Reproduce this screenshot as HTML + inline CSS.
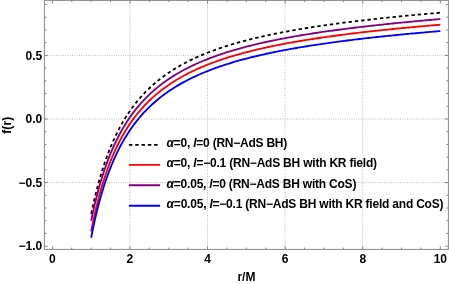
<!DOCTYPE html><html><head><meta charset="utf-8"><style>html,body{margin:0;padding:0;background:#fff}svg{display:block;will-change:transform}text{font-family:"Liberation Sans",sans-serif;font-weight:bold;font-size:12px;fill:#000}</style></head><body>
<svg width="449" height="284" viewBox="0 0 449 284">
<rect width="449" height="284" fill="#fff"/>
<line x1="129.95" x2="129.95" y1="0.4" y2="249.4" stroke="#b4b4b4" stroke-width="1" stroke-dasharray="0.9 1.41"/>
<line x1="207.55" x2="207.55" y1="0.4" y2="249.4" stroke="#b4b4b4" stroke-width="1" stroke-dasharray="0.9 1.41"/>
<line x1="285.15" x2="285.15" y1="0.4" y2="249.4" stroke="#b4b4b4" stroke-width="1" stroke-dasharray="0.9 1.41"/>
<line x1="362.75" x2="362.75" y1="0.4" y2="249.4" stroke="#b4b4b4" stroke-width="1" stroke-dasharray="0.9 1.41"/>
<line x1="44.4" x2="448.4" y1="55.40" y2="55.40" stroke="#b4b4b4" stroke-width="1" stroke-dasharray="0.9 1.41"/>
<line x1="44.4" x2="448.4" y1="119.00" y2="119.00" stroke="#b4b4b4" stroke-width="1" stroke-dasharray="0.9 1.41"/>
<line x1="44.4" x2="448.4" y1="182.60" y2="182.60" stroke="#b4b4b4" stroke-width="1" stroke-dasharray="0.9 1.41"/>
<g fill="none" stroke-width="1.85" stroke-linejoin="round">
<path d="M91.15,214.36 L92.90,206.04 L94.66,198.30 L96.41,191.10 L98.17,184.37 L99.92,178.07 L101.68,172.16 L103.43,166.61 L105.19,161.38 L106.94,156.46 L108.70,151.81 L110.45,147.41 L112.21,143.24 L113.96,139.29 L115.72,135.54 L117.47,131.97 L119.23,128.57 L120.98,125.33 L122.74,122.23 L124.49,119.28 L126.25,116.46 L128.00,113.75 L129.76,111.16 L131.51,108.68 L133.26,106.29 L135.02,104.00 L136.77,101.80 L138.53,99.68 L140.28,97.64 L142.04,95.68 L143.79,93.78 L145.55,91.96 L147.30,90.19 L149.06,88.49 L150.81,86.84 L152.57,85.24 L154.32,83.70 L156.08,82.21 L157.83,80.76 L159.59,79.36 L161.34,78.00 L163.10,76.68 L164.85,75.40 L166.61,74.16 L168.36,72.95 L170.11,71.78 L171.87,70.63 L173.62,69.52 L175.38,68.44 L177.13,67.39 L178.89,66.37 L180.64,65.37 L182.40,64.39 L184.15,63.45 L185.91,62.52 L187.66,61.62 L189.42,60.74 L191.17,59.88 L192.93,59.04 L194.68,58.22 L196.44,57.42 L198.19,56.63 L199.95,55.87 L201.70,55.12 L203.46,54.38 L205.21,53.67 L206.97,52.97 L208.72,52.28 L210.47,51.61 L212.23,50.95 L213.98,50.30 L215.74,49.67 L217.49,49.05 L219.25,48.44 L221.00,47.84 L222.76,47.26 L224.51,46.68 L226.27,46.12 L228.02,45.57 L229.78,45.03 L231.53,44.49 L233.29,43.97 L235.04,43.46 L236.80,42.95 L238.55,42.45 L240.31,41.97 L242.06,41.49 L243.82,41.02 L245.57,40.55 L247.32,40.10 L249.08,39.65 L250.83,39.21 L252.59,38.77 L254.34,38.35 L256.10,37.92 L257.85,37.51 L259.61,37.10 L261.36,36.70 L263.12,36.30 L264.87,35.91 L266.63,35.53 L268.38,35.15 L270.14,34.78 L271.89,34.41 L273.65,34.05 L275.40,33.69 L277.16,33.34 L278.91,32.99 L280.67,32.65 L282.42,32.31 L284.18,31.98 L285.93,31.65 L287.68,31.32 L289.44,31.00 L291.19,30.68 L292.95,30.37 L294.70,30.06 L296.46,29.76 L298.21,29.45 L299.97,29.16 L301.72,28.86 L303.48,28.57 L305.23,28.28 L306.99,28.00 L308.74,27.72 L310.50,27.44 L312.25,27.17 L314.01,26.90 L315.76,26.63 L317.52,26.37 L319.27,26.10 L321.03,25.84 L322.78,25.59 L324.53,25.33 L326.29,25.08 L328.04,24.83 L329.80,24.59 L331.55,24.35 L333.31,24.10 L335.06,23.87 L336.82,23.63 L338.57,23.40 L340.33,23.17 L342.08,22.94 L343.84,22.71 L345.59,22.48 L347.35,22.26 L349.10,22.04 L350.86,21.82 L352.61,21.61 L354.37,21.39 L356.12,21.18 L357.88,20.97 L359.63,20.76 L361.39,20.55 L363.14,20.35 L364.89,20.14 L366.65,19.94 L368.40,19.74 L370.16,19.54 L371.91,19.35 L373.67,19.15 L375.42,18.96 L377.18,18.77 L378.93,18.57 L380.69,18.39 L382.44,18.20 L384.20,18.01 L385.95,17.83 L387.71,17.64 L389.46,17.46 L391.22,17.28 L392.97,17.10 L394.73,16.92 L396.48,16.75 L398.24,16.57 L399.99,16.40 L401.74,16.22 L403.50,16.05 L405.25,15.88 L407.01,15.71 L408.76,15.54 L410.52,15.38 L412.27,15.21 L414.03,15.04 L415.78,14.88 L417.54,14.72 L419.29,14.56 L421.05,14.39 L422.80,14.23 L424.56,14.08 L426.31,13.92 L428.07,13.76 L429.82,13.60 L431.58,13.45 L433.33,13.29 L435.09,13.14 L436.84,12.99 L438.60,12.84 L440.35,12.69" stroke="#000" stroke-width="1.8" stroke-dasharray="3.4 2.92" stroke-dashoffset="-0.5"/>
<path d="M91.15,231.44 L92.90,222.66 L94.66,214.51 L96.41,206.94 L98.17,199.89 L99.92,193.31 L101.68,187.14 L103.43,181.36 L105.19,175.93 L106.94,170.82 L108.70,166.00 L110.45,161.44 L112.21,157.13 L113.96,153.05 L115.72,149.18 L117.47,145.50 L119.23,142.00 L120.98,138.67 L122.74,135.49 L124.49,132.45 L126.25,129.56 L128.00,126.78 L129.76,124.13 L131.51,121.58 L133.26,119.14 L135.02,116.80 L136.77,114.55 L138.53,112.38 L140.28,110.30 L142.04,108.30 L143.79,106.36 L145.55,104.50 L147.30,102.70 L149.06,100.96 L150.81,99.28 L152.57,97.66 L154.32,96.09 L156.08,94.57 L157.83,93.10 L159.59,91.68 L161.34,90.29 L163.10,88.95 L164.85,87.65 L166.61,86.39 L168.36,85.16 L170.11,83.97 L171.87,82.82 L173.62,81.69 L175.38,80.59 L177.13,79.53 L178.89,78.49 L180.64,77.48 L182.40,76.49 L184.15,75.53 L185.91,74.60 L187.66,73.68 L189.42,72.79 L191.17,71.92 L192.93,71.07 L194.68,70.24 L196.44,69.43 L198.19,68.64 L199.95,67.87 L201.70,67.11 L203.46,66.37 L205.21,65.65 L206.97,64.94 L208.72,64.24 L210.47,63.57 L212.23,62.90 L213.98,62.25 L215.74,61.61 L217.49,60.99 L219.25,60.37 L221.00,59.77 L222.76,59.18 L224.51,58.60 L226.27,58.04 L228.02,57.48 L229.78,56.93 L231.53,56.40 L233.29,55.87 L235.04,55.35 L236.80,54.85 L238.55,54.35 L240.31,53.86 L242.06,53.37 L243.82,52.90 L245.57,52.43 L247.32,51.98 L249.08,51.53 L250.83,51.08 L252.59,50.65 L254.34,50.22 L256.10,49.79 L257.85,49.38 L259.61,48.97 L261.36,48.57 L263.12,48.17 L264.87,47.78 L266.63,47.39 L268.38,47.01 L270.14,46.64 L271.89,46.27 L273.65,45.91 L275.40,45.55 L277.16,45.20 L278.91,44.85 L280.67,44.50 L282.42,44.17 L284.18,43.83 L285.93,43.50 L287.68,43.18 L289.44,42.85 L291.19,42.54 L292.95,42.23 L294.70,41.92 L296.46,41.61 L298.21,41.31 L299.97,41.01 L301.72,40.72 L303.48,40.43 L305.23,40.14 L306.99,39.86 L308.74,39.58 L310.50,39.30 L312.25,39.03 L314.01,38.76 L315.76,38.49 L317.52,38.23 L319.27,37.97 L321.03,37.71 L322.78,37.45 L324.53,37.20 L326.29,36.95 L328.04,36.70 L329.80,36.46 L331.55,36.22 L333.31,35.98 L335.06,35.74 L336.82,35.50 L338.57,35.27 L340.33,35.04 L342.08,34.81 L343.84,34.59 L345.59,34.36 L347.35,34.14 L349.10,33.92 L350.86,33.71 L352.61,33.49 L354.37,33.28 L356.12,33.07 L357.88,32.86 L359.63,32.65 L361.39,32.45 L363.14,32.24 L364.89,32.04 L366.65,31.84 L368.40,31.64 L370.16,31.45 L371.91,31.25 L373.67,31.06 L375.42,30.87 L377.18,30.68 L378.93,30.49 L380.69,30.30 L382.44,30.12 L384.20,29.93 L385.95,29.75 L387.71,29.57 L389.46,29.39 L391.22,29.21 L392.97,29.03 L394.73,28.86 L396.48,28.68 L398.24,28.51 L399.99,28.34 L401.74,28.17 L403.50,28.00 L405.25,27.83 L407.01,27.66 L408.76,27.50 L410.52,27.33 L412.27,27.17 L414.03,27.01 L415.78,26.85 L417.54,26.68 L419.29,26.53 L421.05,26.37 L422.80,26.21 L424.56,26.05 L426.31,25.90 L428.07,25.74 L429.82,25.59 L431.58,25.44 L433.33,25.29 L435.09,25.14 L436.84,24.99 L438.60,24.84 L440.35,24.69" stroke="#ff0000"/>
<path d="M91.15,220.72 L92.90,212.40 L94.66,204.66 L96.41,197.46 L98.17,190.73 L99.92,184.43 L101.68,178.52 L103.43,172.97 L105.19,167.74 L106.94,162.82 L108.70,158.17 L110.45,153.77 L112.21,149.60 L113.96,145.65 L115.72,141.90 L117.47,138.33 L119.23,134.93 L120.98,131.69 L122.74,128.59 L124.49,125.64 L126.25,122.82 L128.00,120.11 L129.76,117.52 L131.51,115.04 L133.26,112.65 L135.02,110.36 L136.77,108.16 L138.53,106.04 L140.28,104.00 L142.04,102.04 L143.79,100.14 L145.55,98.32 L147.30,96.55 L149.06,94.85 L150.81,93.20 L152.57,91.60 L154.32,90.06 L156.08,88.57 L157.83,87.12 L159.59,85.72 L161.34,84.36 L163.10,83.04 L164.85,81.76 L166.61,80.52 L168.36,79.31 L170.11,78.14 L171.87,76.99 L173.62,75.88 L175.38,74.80 L177.13,73.75 L178.89,72.73 L180.64,71.73 L182.40,70.75 L184.15,69.81 L185.91,68.88 L187.66,67.98 L189.42,67.10 L191.17,66.24 L192.93,65.40 L194.68,64.58 L196.44,63.78 L198.19,62.99 L199.95,62.23 L201.70,61.48 L203.46,60.74 L205.21,60.03 L206.97,59.33 L208.72,58.64 L210.47,57.97 L212.23,57.31 L213.98,56.66 L215.74,56.03 L217.49,55.41 L219.25,54.80 L221.00,54.20 L222.76,53.62 L224.51,53.04 L226.27,52.48 L228.02,51.93 L229.78,51.39 L231.53,50.85 L233.29,50.33 L235.04,49.82 L236.80,49.31 L238.55,48.81 L240.31,48.33 L242.06,47.85 L243.82,47.38 L245.57,46.91 L247.32,46.46 L249.08,46.01 L250.83,45.57 L252.59,45.13 L254.34,44.71 L256.10,44.28 L257.85,43.87 L259.61,43.46 L261.36,43.06 L263.12,42.66 L264.87,42.27 L266.63,41.89 L268.38,41.51 L270.14,41.14 L271.89,40.77 L273.65,40.41 L275.40,40.05 L277.16,39.70 L278.91,39.35 L280.67,39.01 L282.42,38.67 L284.18,38.34 L285.93,38.01 L287.68,37.68 L289.44,37.36 L291.19,37.04 L292.95,36.73 L294.70,36.42 L296.46,36.12 L298.21,35.81 L299.97,35.52 L301.72,35.22 L303.48,34.93 L305.23,34.64 L306.99,34.36 L308.74,34.08 L310.50,33.80 L312.25,33.53 L314.01,33.26 L315.76,32.99 L317.52,32.73 L319.27,32.46 L321.03,32.20 L322.78,31.95 L324.53,31.69 L326.29,31.44 L328.04,31.19 L329.80,30.95 L331.55,30.71 L333.31,30.46 L335.06,30.23 L336.82,29.99 L338.57,29.76 L340.33,29.53 L342.08,29.30 L343.84,29.07 L345.59,28.84 L347.35,28.62 L349.10,28.40 L350.86,28.18 L352.61,27.97 L354.37,27.75 L356.12,27.54 L357.88,27.33 L359.63,27.12 L361.39,26.91 L363.14,26.71 L364.89,26.50 L366.65,26.30 L368.40,26.10 L370.16,25.90 L371.91,25.71 L373.67,25.51 L375.42,25.32 L377.18,25.13 L378.93,24.93 L380.69,24.75 L382.44,24.56 L384.20,24.37 L385.95,24.19 L387.71,24.00 L389.46,23.82 L391.22,23.64 L392.97,23.46 L394.73,23.28 L396.48,23.11 L398.24,22.93 L399.99,22.76 L401.74,22.58 L403.50,22.41 L405.25,22.24 L407.01,22.07 L408.76,21.90 L410.52,21.74 L412.27,21.57 L414.03,21.40 L415.78,21.24 L417.54,21.08 L419.29,20.92 L421.05,20.75 L422.80,20.59 L424.56,20.44 L426.31,20.28 L428.07,20.12 L429.82,19.96 L431.58,19.81 L433.33,19.65 L435.09,19.50 L436.84,19.35 L438.60,19.20 L440.35,19.05" stroke="#800080"/>
<path d="M91.15,237.80 L92.90,229.02 L94.66,220.87 L96.41,213.30 L98.17,206.25 L99.92,199.67 L101.68,193.50 L103.43,187.72 L105.19,182.29 L106.94,177.18 L108.70,172.36 L110.45,167.80 L112.21,163.49 L113.96,159.41 L115.72,155.54 L117.47,151.86 L119.23,148.36 L120.98,145.03 L122.74,141.85 L124.49,138.81 L126.25,135.92 L128.00,133.14 L129.76,130.49 L131.51,127.94 L133.26,125.50 L135.02,123.16 L136.77,120.91 L138.53,118.74 L140.28,116.66 L142.04,114.66 L143.79,112.72 L145.55,110.86 L147.30,109.06 L149.06,107.32 L150.81,105.64 L152.57,104.02 L154.32,102.45 L156.08,100.93 L157.83,99.46 L159.59,98.04 L161.34,96.65 L163.10,95.31 L164.85,94.01 L166.61,92.75 L168.36,91.52 L170.11,90.33 L171.87,89.18 L173.62,88.05 L175.38,86.95 L177.13,85.89 L178.89,84.85 L180.64,83.84 L182.40,82.85 L184.15,81.89 L185.91,80.96 L187.66,80.04 L189.42,79.15 L191.17,78.28 L192.93,77.43 L194.68,76.60 L196.44,75.79 L198.19,75.00 L199.95,74.23 L201.70,73.47 L203.46,72.73 L205.21,72.01 L206.97,71.30 L208.72,70.60 L210.47,69.93 L212.23,69.26 L213.98,68.61 L215.74,67.97 L217.49,67.35 L219.25,66.73 L221.00,66.13 L222.76,65.54 L224.51,64.96 L226.27,64.40 L228.02,63.84 L229.78,63.29 L231.53,62.76 L233.29,62.23 L235.04,61.71 L236.80,61.21 L238.55,60.71 L240.31,60.22 L242.06,59.73 L243.82,59.26 L245.57,58.79 L247.32,58.34 L249.08,57.89 L250.83,57.44 L252.59,57.01 L254.34,56.58 L256.10,56.15 L257.85,55.74 L259.61,55.33 L261.36,54.93 L263.12,54.53 L264.87,54.14 L266.63,53.75 L268.38,53.37 L270.14,53.00 L271.89,52.63 L273.65,52.27 L275.40,51.91 L277.16,51.56 L278.91,51.21 L280.67,50.86 L282.42,50.53 L284.18,50.19 L285.93,49.86 L287.68,49.54 L289.44,49.21 L291.19,48.90 L292.95,48.59 L294.70,48.28 L296.46,47.97 L298.21,47.67 L299.97,47.37 L301.72,47.08 L303.48,46.79 L305.23,46.50 L306.99,46.22 L308.74,45.94 L310.50,45.66 L312.25,45.39 L314.01,45.12 L315.76,44.85 L317.52,44.59 L319.27,44.33 L321.03,44.07 L322.78,43.81 L324.53,43.56 L326.29,43.31 L328.04,43.06 L329.80,42.82 L331.55,42.58 L333.31,42.34 L335.06,42.10 L336.82,41.86 L338.57,41.63 L340.33,41.40 L342.08,41.17 L343.84,40.95 L345.59,40.72 L347.35,40.50 L349.10,40.28 L350.86,40.07 L352.61,39.85 L354.37,39.64 L356.12,39.43 L357.88,39.22 L359.63,39.01 L361.39,38.81 L363.14,38.60 L364.89,38.40 L366.65,38.20 L368.40,38.00 L370.16,37.81 L371.91,37.61 L373.67,37.42 L375.42,37.23 L377.18,37.04 L378.93,36.85 L380.69,36.66 L382.44,36.48 L384.20,36.29 L385.95,36.11 L387.71,35.93 L389.46,35.75 L391.22,35.57 L392.97,35.39 L394.73,35.22 L396.48,35.04 L398.24,34.87 L399.99,34.70 L401.74,34.53 L403.50,34.36 L405.25,34.19 L407.01,34.02 L408.76,33.86 L410.52,33.69 L412.27,33.53 L414.03,33.37 L415.78,33.21 L417.54,33.04 L419.29,32.89 L421.05,32.73 L422.80,32.57 L424.56,32.41 L426.31,32.26 L428.07,32.10 L429.82,31.95 L431.58,31.80 L433.33,31.65 L435.09,31.50 L436.84,31.35 L438.60,31.20 L440.35,31.05" stroke="#0000ff"/>
</g>
<rect x="44.4" y="0.4" width="404.0" height="249.0" fill="none" stroke="#888888" stroke-width="1"/>
<path d="M52.35,249.4v-3.1M52.35,0.4v3.1M71.75,249.4v-1.8M71.75,0.4v1.8M91.15,249.4v-1.8M91.15,0.4v1.8M110.55,249.4v-1.8M110.55,0.4v1.8M129.95,249.4v-3.1M129.95,0.4v3.1M149.35,249.4v-1.8M149.35,0.4v1.8M168.75,249.4v-1.8M168.75,0.4v1.8M188.15,249.4v-1.8M188.15,0.4v1.8M207.55,249.4v-3.1M207.55,0.4v3.1M226.95,249.4v-1.8M226.95,0.4v1.8M246.35,249.4v-1.8M246.35,0.4v1.8M265.75,249.4v-1.8M265.75,0.4v1.8M285.15,249.4v-3.1M285.15,0.4v3.1M304.55,249.4v-1.8M304.55,0.4v1.8M323.95,249.4v-1.8M323.95,0.4v1.8M343.35,249.4v-1.8M343.35,0.4v1.8M362.75,249.4v-3.1M362.75,0.4v3.1M382.15,249.4v-1.8M382.15,0.4v1.8M401.55,249.4v-1.8M401.55,0.4v1.8M420.95,249.4v-1.8M420.95,0.4v1.8M440.35,249.4v-3.1M440.35,0.4v3.1M44.4,246.20h3.4M448.4,246.20h-3.4M44.4,233.48h2.1M448.4,233.48h-2.1M44.4,220.76h2.1M448.4,220.76h-2.1M44.4,208.04h2.1M448.4,208.04h-2.1M44.4,195.32h2.1M448.4,195.32h-2.1M44.4,182.60h3.4M448.4,182.60h-3.4M44.4,169.88h2.1M448.4,169.88h-2.1M44.4,157.16h2.1M448.4,157.16h-2.1M44.4,144.44h2.1M448.4,144.44h-2.1M44.4,131.72h2.1M448.4,131.72h-2.1M44.4,119.00h3.4M448.4,119.00h-3.4M44.4,106.28h2.1M448.4,106.28h-2.1M44.4,93.56h2.1M448.4,93.56h-2.1M44.4,80.84h2.1M448.4,80.84h-2.1M44.4,68.12h2.1M448.4,68.12h-2.1M44.4,55.40h3.4M448.4,55.40h-3.4M44.4,42.68h2.1M448.4,42.68h-2.1M44.4,29.96h2.1M448.4,29.96h-2.1M44.4,17.24h2.1M448.4,17.24h-2.1M44.4,4.52h2.1M448.4,4.52h-2.1" stroke="#7c7c7c" stroke-width="0.9" fill="none"/>
<text x="52.35" y="262.6" text-anchor="middle">0</text>
<text x="129.95" y="262.6" text-anchor="middle">2</text>
<text x="207.55" y="262.6" text-anchor="middle">4</text>
<text x="285.15" y="262.6" text-anchor="middle">6</text>
<text x="362.75" y="262.6" text-anchor="middle">8</text>
<text x="440.35" y="262.6" text-anchor="middle">10</text>
<text x="42.3" y="59.50" text-anchor="end">0.5</text>
<text x="42.3" y="123.10" text-anchor="end">0.0</text>
<text x="42.3" y="186.70" text-anchor="end">−0.5</text>
<text x="42.3" y="250.30" text-anchor="end">−1.0</text>
<text x="246.4" y="281" text-anchor="middle">r/M</text>
<text transform="translate(11,125.2) rotate(-90)" text-anchor="middle" letter-spacing="0.15">f(r)</text>
<line x1="128.9" x2="160.1" y1="144.9" y2="144.9" stroke="#000" stroke-width="1.9" stroke-dasharray="3.5 2.8"/>
<text x="166.6" y="147.30" font-size="11" textLength="120.7" lengthAdjust="spacing"><tspan font-style="italic">α</tspan>=0, <tspan font-style="italic">l</tspan>=0 (RN−AdS BH)</text>
<line x1="128.9" x2="160.1" y1="164.9" y2="164.9" stroke="#ff0000" stroke-width="1.9"/>
<text x="166.6" y="167.30" font-size="11" textLength="210.4" lengthAdjust="spacing"><tspan font-style="italic">α</tspan>=0, <tspan font-style="italic">l</tspan>=−0.1 (RN−AdS BH with KR field)</text>
<line x1="128.9" x2="160.1" y1="185.3" y2="185.3" stroke="#800080" stroke-width="1.9"/>
<text x="166.6" y="187.70" font-size="11" textLength="189.8" lengthAdjust="spacing"><tspan font-style="italic">α</tspan>=0.05, <tspan font-style="italic">l</tspan>=0 (RN−AdS BH with CoS)</text>
<line x1="128.9" x2="160.1" y1="205.8" y2="205.8" stroke="#0000ff" stroke-width="1.9"/>
<text x="166.6" y="208.20" font-size="11" textLength="276.9" lengthAdjust="spacing"><tspan font-style="italic">α</tspan>=0.05, <tspan font-style="italic">l</tspan>=−0.1 (RN−AdS BH with KR field and CoS)</text>
</svg></body></html>
